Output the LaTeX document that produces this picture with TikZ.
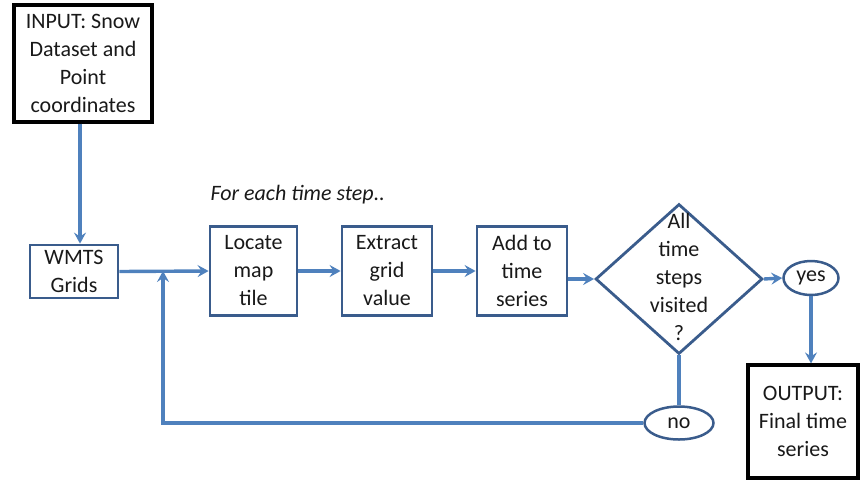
\documentclass[tikz,border=0pt]{standalone}
\usepackage{fontspec}
\setmainfont{Carlito}
\usetikzlibrary{shapes.geometric,arrows.meta}
\definecolor{arrblue}{HTML}{4F81BD}
\definecolor{boxblue}{HTML}{3A5C8C}
\begin{document}
\begin{tikzpicture}[x=1pt,y=-1pt,
  every node/.style={font=\fontsize{22}{28}\selectfont, align=center, text=black!90},
  blackbox/.style={draw=black, line width=3.2pt, rectangle, inner sep=0pt},
  bluebox/.style={draw=boxblue, line width=2.8pt, rectangle, inner sep=0pt},
  blueell/.style={draw=boxblue, line width=2.5pt, ellipse, inner sep=0pt},
  arr/.style={draw=arrblue, line width=3.4pt, -{Stealth[length=11pt,width=12pt,inset=4pt]}},
  ln/.style={draw=arrblue, line width=3.4pt}]
\useasboundingbox (0,0) rectangle (862,480);
\node[blackbox, minimum width=138pt, minimum height=117pt] (input) at (83,63.5) {INPUT: Snow\\Dataset and\\Point\\coordinates};
\node[bluebox, minimum width=88pt, minimum height=53pt] (wmts) at (74,271.5) {WMTS\\Grids};
\node[bluebox, minimum width=87pt, minimum height=89pt] (locate) at (253.5,271) {Locate\\map\\tile};
\node[bluebox, minimum width=90pt, minimum height=89pt] (extract) at (387,271) {Extract\\grid\\value};
\node[bluebox, minimum width=90pt, minimum height=89pt] (add) at (522,271) {Add to\\time\\series};
\node[diamond, draw=boxblue, line width=2.8pt, minimum width=167pt, minimum height=150pt, inner sep=0pt] (dec) at (679,279) {};
\node (dectext) at (679,277) {All\\time\\steps\\visited\\?};
\node[blueell, minimum width=55pt, minimum height=34pt] (yes) at (811,278) {yes};
\node[blueell, minimum width=69pt, minimum height=33pt] (no) at (679,423) {no};
\node[blackbox, minimum width=110pt, minimum height=113pt] (output) at (803,421.5) {OUTPUT:\\Final time\\series};
\node[anchor=base west, font=\fontsize{22}{28}\selectfont\itshape] (foreach) at (207,200) {For each time step..};
\coordinate (j) at (163,271);
\coordinate (vx) at (80,0);
\draw[arr] (input.south -| vx) -- (wmts.north -| vx);
\draw[arr] (wmts.east) -- (locate.west);
\draw[arr] (locate.east) -- (extract.west);
\draw[arr] (extract.east) -- (add.west);
\draw[arr] (add.east |- dec.west) -- (dec.west);
\draw[arr] (dec.east) -- (yes.west);
\draw[arr] (yes.south) -- (yes.south |- output.north);
\draw[ln] (dec.south) -- (no.north);
\draw[arr] (no.west) -| (j);
\end{tikzpicture}
\end{document}
